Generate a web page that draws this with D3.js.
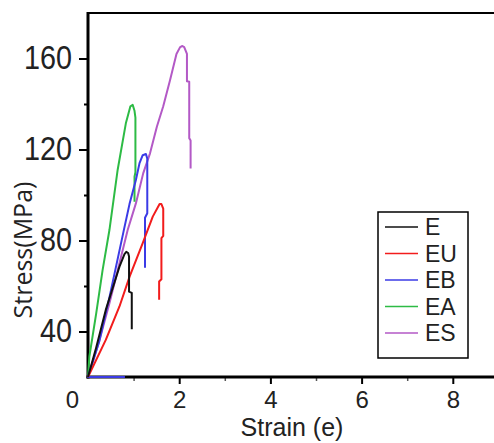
<!DOCTYPE html>
<html><head><meta charset="utf-8">
<script src="https://cdn.jsdelivr.net/npm/d3@7/dist/d3.min.js"></script>
<style>body{margin:0;background:#fff;}svg{display:block;}</style>
</head><body>
<svg id="c" width="494" height="443"></svg>
<script>
// ---- data ----
const seriesNames = ["E", "EU", "EB", "EA", "ES"];
const strainE  = [0, 0.18, 0.39, 0.69, 0.80, 0.84, 0.88, 0.90, 0.90, 0.96, 0.96];
const stressE  = [20, 33, 49.5, 68.5, 74, 75, 74.5, 73, 57.5, 57, 41];
const strainEU = [0, 0.39, 0.69, 0.91, 1.20, 1.42, 1.57, 1.61, 1.65, 1.65, 1.61, 1.61, 1.56, 1.56];
const stressEU = [20, 36.3, 51, 64, 78.8, 90.5, 96, 96, 94, 82, 81, 63, 62, 54];
const strainEB = [0.81, 0, 0.25, 0.47, 0.78, 0.91, 1.05, 1.13, 1.20, 1.27, 1.30, 1.30, 1.25, 1.25];
const stressEB = [20, 20, 36, 55, 84, 96, 106.6, 114, 117.5, 118, 116, 92, 90, 68];
const strainEA = [0, 0.03, 0.18, 0.32, 0.47, 0.65, 0.83, 0.93, 0.98, 1.02, 1.04, 1.04, 1.02, 1.02];
const stressEA = [20, 29, 48, 67, 84.6, 111, 131.5, 139, 139.6, 137, 134, 110, 108, 97];
const strainES = [0, 0.25, 0.47, 0.69, 0.87, 1.05, 1.21, 1.36, 1.51, 1.65, 1.80, 1.94, 2.02, 2.07, 2.11, 2.15, 2.17, 2.17, 2.22, 2.22, 2.25, 2.25];
const stressES = [20, 36, 52.4, 70, 84.6, 96.3, 109.5, 118.3, 130, 139, 150.5, 162, 165, 165.5, 165, 163, 162, 150, 149.8, 125, 124, 111.7];
const yTicks = [40, 80, 120, 160];
const yMinor = [60, 100, 140];
const xTicks = [0, 2, 4, 6, 8];
const xMinor = [1, 3, 5, 7, 9];
const xTitle = "Strain (e)";
const yTitle = "Stress(MPa)";

const seriesData = [
  [strainE, stressE], [strainEU, stressEU], [strainEB, stressEB], [strainEA, stressEA], [strainES, stressES]
].map(([xs, ys], i) => ({ name: seriesNames[i], pts: xs.map((v, j) => [v, ys[j]]) }));

// ---- layout ----
const svg = d3.select("#c");
const L = 88, T = 13, B = 377, R = 544;
const x = d3.scaleLinear().domain([0, 10]).range([L, R]);
const y = d3.scaleLinear().domain([20, 180]).range([B, T]);
const color = d3.scaleOrdinal().domain(seriesNames)
  .range(["#111111", "#f21c1c", "#3b3be6", "#2dbb45", "#b359c6"]);

// frame top
svg.append("line").attr("x1", L).attr("x2", R).attr("y1", T).attr("y2", T)
  .attr("stroke", "#000").attr("stroke-width", 2);

// y axis
const gy = svg.append("g").attr("transform", `translate(${L},0)`)
  .call(d3.axisLeft(y).tickValues(yTicks).tickSize(9).tickPadding(7));
gy.select(".domain").remove();
gy.selectAll(".tick line").attr("stroke", "#000").attr("stroke-width", 2);
gy.selectAll(".tick text").attr("font-family", "Liberation Sans, Arial, sans-serif")
  .attr("font-size", 30).attr("fill", "#222")
  .attr("x", 0).attr("transform", "translate(-16,0) scale(0.96,1.08)");
const gym = svg.append("g").attr("transform", `translate(${L},0)`)
  .call(d3.axisLeft(y).tickValues(yMinor).tickSize(4).tickFormat(""));
gym.select(".domain").remove();
gym.selectAll(".tick line").attr("stroke", "#000").attr("stroke-width", 2);

// x axis
const gx = svg.append("g").attr("transform", `translate(0,${B})`)
  .call(d3.axisBottom(x).tickValues(xTicks).tickSize(7).tickPadding(7));
gx.select(".domain").remove();
gx.selectAll(".tick line").attr("stroke", "#000").attr("stroke-width", 2);
gx.selectAll(".tick text").attr("font-family", "Liberation Sans, Arial, sans-serif")
  .attr("font-size", 24).attr("fill", "#222")
  .attr("dx", d => d === 0 ? -16 : 0);
gx.selectAll(".tick").filter(d => d === 0).select("line").remove();
const gxm = svg.append("g").attr("transform", `translate(0,${B})`)
  .call(d3.axisBottom(x).tickValues(xMinor).tickSize(4).tickFormat(""));
gxm.select(".domain").remove();
gxm.selectAll(".tick line").attr("stroke", "#555").attr("stroke-width", 1.5);

// axis lines
svg.append("line").attr("x1", L).attr("x2", L).attr("y1", T - 1).attr("y2", B + 1.5)
  .attr("stroke", "#000").attr("stroke-width", 3);
svg.append("line").attr("x1", L - 1.5).attr("x2", R).attr("y1", B).attr("y2", B)
  .attr("stroke", "#000").attr("stroke-width", 3);

// curves
const line = d3.line().x(d => x(d[0])).y(d => y(d[1]));
const order = ["ES", "EA", "EB", "EU", "E"];
svg.append("g").selectAll("path")
  .data(order.map(n => seriesData.find(s => s.name === n)))
  .join("path")
  .attr("d", d => line(d.pts))
  .attr("fill", "none")
  .attr("stroke", d => color(d.name))
  .attr("stroke-width", 2)
  .attr("stroke-linejoin", "round");

// titles
svg.append("text").attr("x", 292).attr("y", 436).attr("text-anchor", "middle")
  .attr("font-family", "Liberation Sans, Arial, sans-serif").attr("font-size", 25).attr("fill", "#222")
  .text(xTitle);
svg.append("text").attr("transform", "translate(32,250) rotate(-90)").attr("text-anchor", "middle")
  .attr("font-family", "Open Sans, sans-serif").attr("font-size", 25).attr("fill", "#222")
  .text(yTitle);

// legend
const lg = svg.append("g");
lg.append("rect").attr("x", 378).attr("y", 212).attr("width", 90).attr("height", 146)
  .attr("fill", "#fff").attr("stroke", "#000").attr("stroke-width", 1.5);
const items = lg.selectAll("g.item").data(seriesNames).join("g").attr("class", "item")
  .attr("transform", (d, i) => `translate(0,${227 + i * 26.5})`);
items.append("line").attr("x1", 385).attr("x2", 418).attr("y1", 0).attr("y2", 0)
  .attr("stroke", d => color(d)).attr("stroke-width", 1.5);
items.append("text").attr("x", 425).attr("y", 0).attr("dy", "0.36em")
  .attr("font-family", "Liberation Sans, Arial, sans-serif").attr("font-size", 23).attr("fill", "#222")
  .text(d => d);
</script>
</body></html>
